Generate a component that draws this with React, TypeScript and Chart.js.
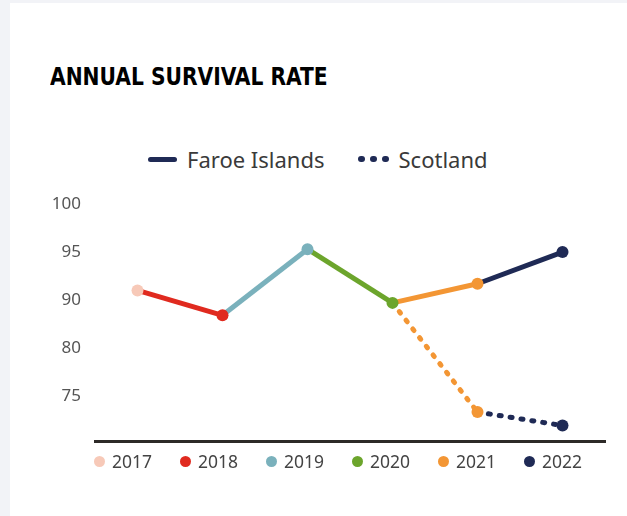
import React, { useEffect, useRef } from "react";
import { Chart, registerables } from "chart.js";

Chart.register(...registerables);

// Data (values in the chart's axis units; tick labels as printed on the axis)
const years = ["2017", "2018", "2019", "2020", "2021", "2022"];
const yearColors = ["#f7c9b8", "#e02a1f", "#7ab1bc", "#6ca52c", "#f39634", "#1f2a55"];
const faroeIslands = [91.0, 88.4, 95.3, 89.7, 91.7, 95.0];
const scotland = [null, null, null, 89.7, 78.3, 76.9];
const tickValues = [100, 95, 90, 85, 80];
const tickLabels = ["100", "95", "90", "80", "75"];

const TEXT = "#444";
const FONT = "'Noto Sans', 'Open Sans', sans-serif";

export default function App() {
  const ref = useRef<HTMLCanvasElement>(null);

  useEffect(() => {
    document.body.style.margin = "0";
    const canvas = ref.current!;
    const chart = new Chart(canvas, {
      type: "line",
      data: {
        labels: years,
        datasets: [
          {
            label: "Faroe Islands",
            data: faroeIslands,
            borderWidth: 5,
            pointRadius: 6,
            pointHoverRadius: 6,
            pointBorderWidth: 0,
            pointBackgroundColor: yearColors,
            borderColor: yearColors[5],
            segment: {
              borderColor: (ctx: any) => yearColors[ctx.p1DataIndex],
            },
            tension: 0,
          },
          {
            label: "Scotland",
            data: scotland,
            borderWidth: 5,
            borderDash: [2, 9],
            borderCapStyle: "round",
            pointRadius: [0, 0, 0, 0, 6, 6],
            pointBorderWidth: 0,
            pointBackgroundColor: yearColors,
            borderColor: yearColors[5],
            segment: {
              borderColor: (ctx: any) => yearColors[ctx.p1DataIndex],
            },
            spanGaps: false,
            tension: 0,
            order: 1,
          },
        ],
      },
      options: {
        animation: false,
        responsive: false,
        maintainAspectRatio: false,
        layout: { padding: { top: 21, right: 22, bottom: 10, left: 0 } },
        plugins: {
          legend: { display: false },
          tooltip: { enabled: false },
          title: { display: false },
        },
        scales: {
          x: {
            offset: true,
            grid: { display: false, drawTicks: false },
            ticks: { display: false },
            border: { display: true, color: "#2d2a28", width: 3 },
            afterFit: (s: any) => {
              s.height = 0;
            },
          },
          y: {
            min: 75.2,
            max: 100,
            grid: { display: false, drawTicks: false },
            border: { display: false },
            afterBuildTicks: (s: any) => {
              s.ticks = tickValues.map((v) => ({ value: v }));
            },
            ticks: {
              color: "#555",
              font: { family: FONT, size: 17 },
              padding: 14,
              callback: (v: any) => {
                const i = tickValues.indexOf(Number(v));
                return i >= 0 ? tickLabels[i] : "";
              },
            },
            afterFit: (s: any) => {
              s.width = 95;
            },
          },
        },
      },
    });
    return () => chart.destroy();
  }, []);

  return (
    <div
      style={{
        position: "relative",
        width: 627,
        height: 516,
        background: "#f2f3f7",
        overflow: "hidden",
        fontFamily: FONT,
      }}
    >
      <div
        style={{
          position: "absolute",
          left: 10,
          top: 3,
          right: 0,
          bottom: 0,
          background: "#fff",
        }}
      />
      <div
        style={{
          position: "absolute",
          left: 50,
          top: 62,
          fontFamily: "'DejaVu Sans Condensed', 'Liberation Sans', sans-serif",
          fontWeight: 700,
          fontSize: 25,
          lineHeight: "30px",
          color: "#000",
          whiteSpace: "nowrap",
          transform: "scaleX(0.9)",
          transformOrigin: "left center",
        }}
      >
        ANNUAL SURVIVAL RATE
      </div>
      {/* series legend */}
      <div
        style={{
          position: "absolute",
          left: 148,
          top: 144,
          height: 30,
          display: "flex",
          alignItems: "center",
          fontSize: 22,
          color: "#3a3a3a",
          whiteSpace: "nowrap",
        }}
      >
        <span
          style={{
            display: "inline-block",
            width: 29,
            height: 5,
            borderRadius: 3,
            background: yearColors[5],
            marginRight: 10,
          }}
        />
        <span>Faroe Islands</span>
        <span style={{ display: "inline-flex", gap: 5, marginLeft: 33, marginRight: 10 }}>
          {[0, 1, 2].map((i) => (
            <span
              key={i}
              style={{
                display: "inline-block",
                width: 7,
                height: 6,
                borderRadius: 3,
                background: yearColors[5],
              }}
            />
          ))}
        </span>
        <span>Scotland</span>
      </div>
      <canvas
        ref={ref}
        width={627}
        height={286}
        style={{ position: "absolute", left: 0, top: 180, width: 627, height: 286 }}
      />
      {/* year legend */}
      {years.map((y, i) => (
        <div
          key={y}
          style={{
            position: "absolute",
            left: 94 + i * 86,
            top: 449,
            height: 24,
            display: "flex",
            alignItems: "center",
            fontSize: 17.5,
            color: TEXT,
            whiteSpace: "nowrap",
          }}
        >
          <span
            style={{
              display: "inline-block",
              width: 11,
              height: 11,
              borderRadius: "50%",
              background: yearColors[i],
              marginRight: 7,
            }}
          />
          <span>{y}</span>
        </div>
      ))}
    </div>
  );
}
